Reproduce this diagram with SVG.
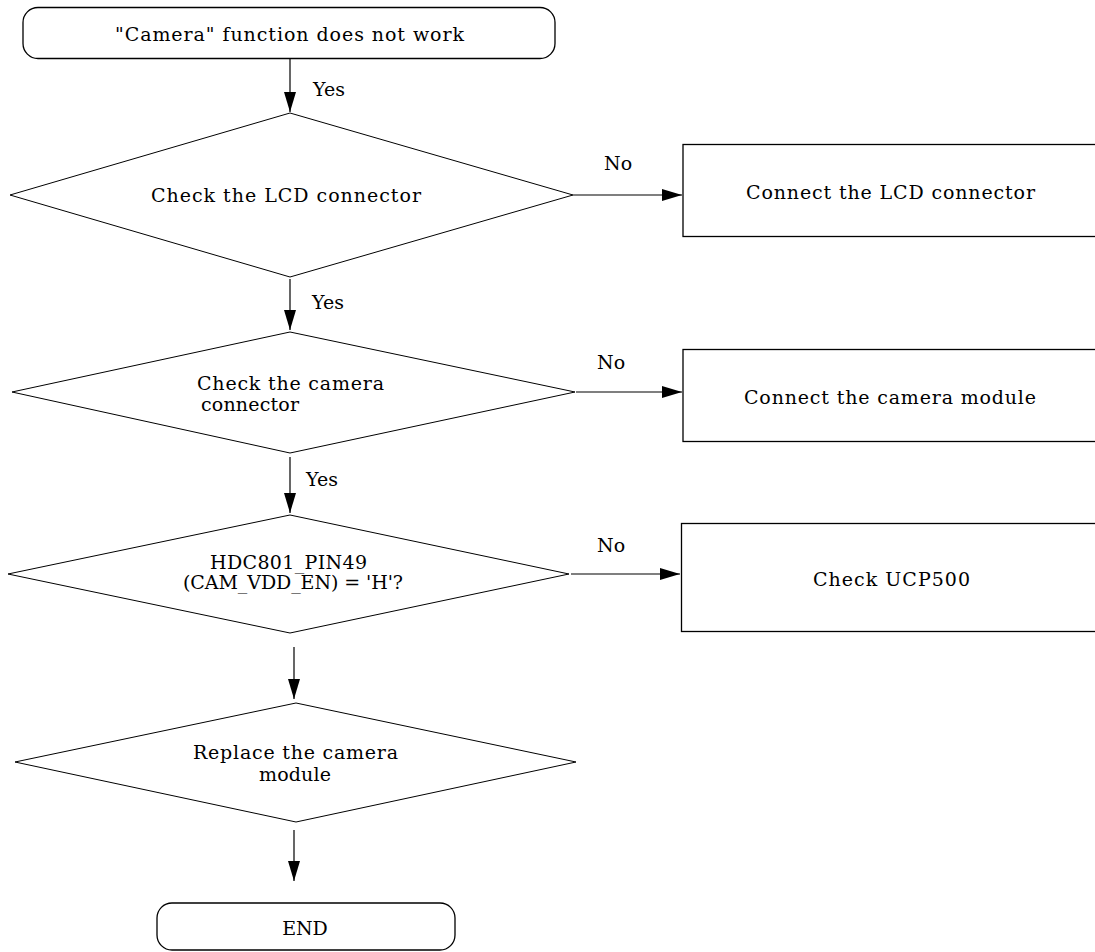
<svg xmlns="http://www.w3.org/2000/svg" width="1095" height="952" viewBox="0 0 1095 952">
<defs>
<marker id="arr" markerUnits="userSpaceOnUse" markerWidth="20" markerHeight="12" refX="20" refY="6" orient="auto">
<path d="M0,0 L20,6 L0,12 z" fill="#000"/>
</marker>
<style>
text{font-family:"DejaVu Serif","Liberation Serif",serif;font-size:19px;fill:#000}
.c{text-anchor:middle}
.term,.box{fill:#fff;stroke:#000;stroke-width:1.3}
.dia{fill:#fff;stroke:#000;stroke-width:1}
.conn line{stroke:#000;stroke-width:1.2;marker-end:url(#arr)}
</style>
</defs>
<rect width="1095" height="952" fill="#fff"/>
<g id="start">
<rect class="term" x="23" y="7.5" width="532" height="51" rx="15"/>
<text class="c" x="289.5" y="41" textLength="349" lengthAdjust="spacing">"Camera" function does not work</text>
</g>
<g id="d1">
<polygon class="dia" points="10,195 290,113 573,195 290,277"/>
<text class="c" x="286" y="202" textLength="270" lengthAdjust="spacing">Check the LCD connector</text>
</g>
<g id="b1">
<rect class="box" x="683" y="144.5" width="430" height="92"/>
<text class="c" x="890.5" y="199" textLength="289" lengthAdjust="spacing">Connect the LCD connector</text>
</g>
<g id="d2">
<polygon class="dia" points="12,392 290,332 575,392 290,453"/>
<text class="c" x="290.5" y="390" textLength="187" lengthAdjust="spacing">Check the camera</text>
<text class="c" x="250" y="411" textLength="98" lengthAdjust="spacing">connector</text>
</g>
<g id="b2">
<rect class="box" x="683" y="349.5" width="430" height="92"/>
<text class="c" x="890" y="404" textLength="292" lengthAdjust="spacing">Connect the camera module</text>
</g>
<g id="d3">
<polygon class="dia" points="8,574 290,515 569,574 290,633"/>
<text class="c" x="288.5" y="569" textLength="157" lengthAdjust="spacing">HDC801_PIN49</text>
<text class="c" x="293" y="589" textLength="220" lengthAdjust="spacing">(CAM_VDD_EN) = 'H'?</text>
</g>
<g id="b3">
<rect class="box" x="681.5" y="523.5" width="430" height="108"/>
<text class="c" x="891.5" y="586" textLength="157" lengthAdjust="spacing">Check UCP500</text>
</g>
<g id="d4">
<polygon class="dia" points="15,762 296,703 576,762 296,822"/>
<text class="c" x="295.5" y="759" textLength="205" lengthAdjust="spacing">Replace the camera</text>
<text class="c" x="295" y="781" textLength="72" lengthAdjust="spacing">module</text>
</g>
<g id="end">
<rect class="term" x="157" y="903" width="298" height="47" rx="15"/>
<text class="c" x="305" y="935">END</text>
</g>
<g id="connectors" class="conn">
<line x1="290" y1="58.5" x2="290" y2="112"/>
<line x1="290" y1="279" x2="290" y2="330"/>
<line x1="290" y1="457" x2="290" y2="513"/>
<line x1="294" y1="647" x2="294" y2="699"/>
<line x1="294" y1="830" x2="294" y2="881"/>
<line x1="573" y1="195" x2="682" y2="195"/>
<line x1="576" y1="392" x2="682" y2="392"/>
<line x1="571" y1="574" x2="680" y2="574"/>
</g>
<g id="labels">
<text x="313" y="96">Yes</text>
<text x="312" y="309">Yes</text>
<text x="306" y="486">Yes</text>
<text x="604" y="170">No</text>
<text x="597" y="369">No</text>
<text x="597" y="552">No</text>
</g>
</svg>
